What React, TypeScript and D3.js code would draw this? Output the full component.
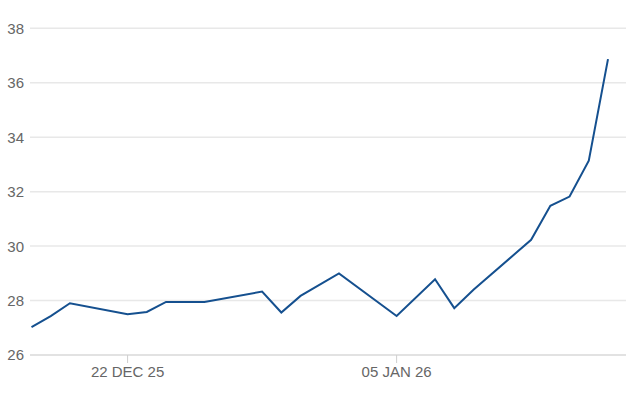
import React from "react";
import * as d3 from "d3";

const dates: string[] = [
  "2025-12-17", "2025-12-18", "2025-12-19", "2025-12-22", "2025-12-23", "2025-12-24",
  "2025-12-26", "2025-12-29", "2025-12-30", "2025-12-31", "2026-01-02", "2026-01-05",
  "2026-01-07", "2026-01-08", "2026-01-09", "2026-01-12", "2026-01-13", "2026-01-14",
  "2026-01-15", "2026-01-16",
];
const values: number[] = [
  27.02, 27.43, 27.9, 27.5, 27.58, 27.95,
  27.95, 28.33, 27.56, 28.17, 29.0, 27.43,
  28.78, 27.72, 28.4, 30.23, 31.48, 31.82,
  33.14, 36.87,
];
const yTicks: number[] = [26, 28, 30, 32, 34, 36, 38];
const xTickDates: string[] = ["2025-12-22", "2026-01-05"];
const xTickLabels: string[] = ["22 DEC 25", "05 JAN 26"];

const W = 626;
const H = 417;

export default function App() {
  const parse = d3.utcParse("%Y-%m-%d");
  const pts = dates.map((d, i) => ({ date: parse(d) as Date, v: values[i] }));

  const x = d3
    .scaleUtc()
    .domain([pts[0].date, pts[pts.length - 1].date])
    .range([31.5, 608]);
  const y = d3.scaleLinear().domain([26, 38]).range([355, 28.3]);

  const line = d3
    .line<{ date: Date; v: number }>()
    .x((d) => x(d.date))
    .y((d) => y(d.v));

  const font = "'Liberation Sans', Arial, sans-serif";

  return (
    <svg
      width={W}
      height={H}
      style={{ position: "absolute", left: 0, top: 0, background: "#fff" }}
    >
      {yTicks.map((t) => (
        <g key={t}>
          <line
            x1={30}
            x2={W}
            y1={y(t)}
            y2={y(t)}
            stroke={t === 26 ? "#d9d9d9" : "#e8e8e8"}
            strokeWidth={1.5}
          />
          <text
            x={24}
            y={y(t)}
            dy="0.36em"
            textAnchor="end"
            fontFamily={font}
            fontSize={15}
            fill="#666"
          >
            {t}
          </text>
        </g>
      ))}
      {xTickDates.map((d, i) => {
        const xx = x(parse(d) as Date);
        return (
          <g key={d}>
            <line x1={xx} x2={xx} y1={355} y2={363} stroke="#cfcfcf" strokeWidth={1} />
            <text
              x={xx}
              y={376.5}
              textAnchor="middle"
              fontFamily={font}
              fontSize={15}
              fill="#666"
            >
              {xTickLabels[i]}
            </text>
          </g>
        );
      })}
      <path
        d={line(pts) || ""}
        fill="none"
        stroke="#15508f"
        strokeWidth={2}
        strokeLinejoin="miter"
      />
    </svg>
  );
}
